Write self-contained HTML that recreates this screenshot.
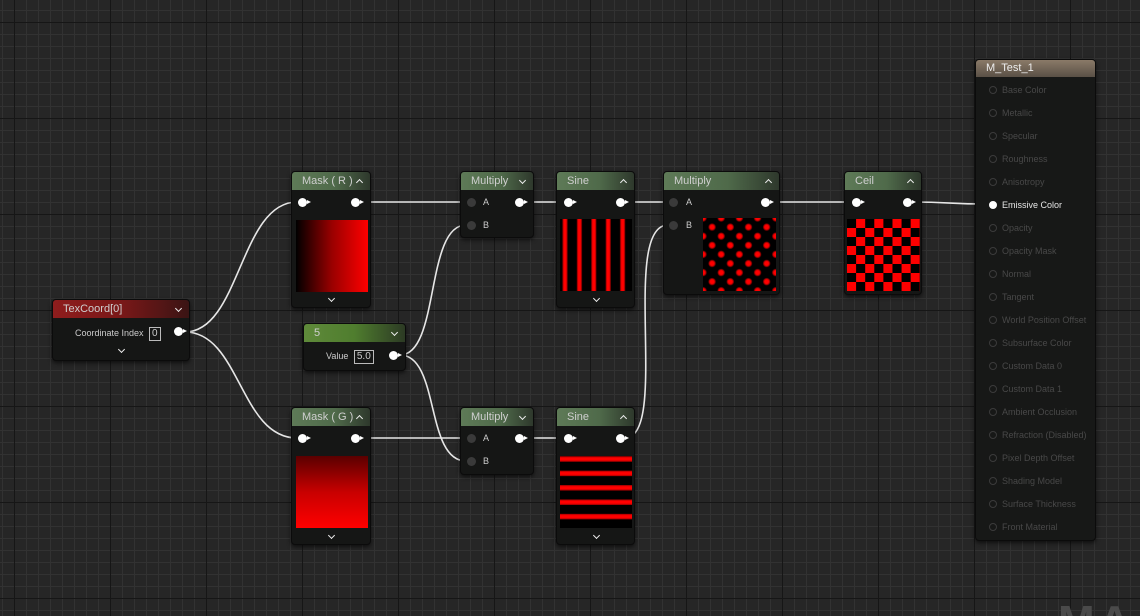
<!DOCTYPE html>
<html style="width:1140px;height:616px;overflow:hidden"><head><meta charset="utf-8"><style>
*{margin:0;padding:0;box-sizing:border-box}
body{width:1140px;height:616px;overflow:hidden;position:relative;font-family:"Liberation Sans",sans-serif;
background-color:#262626;
background-image:
linear-gradient(90deg,#161616 0 1px,transparent 1px),
linear-gradient(0deg,transparent 0 95px,#161616 95px 96px),
linear-gradient(90deg,#323232 0 1px,transparent 1px),
linear-gradient(0deg,transparent 0 11px,#323232 11px 12px);
background-size:96px 96px,96px 96px,12px 12px,12px 12px;
background-position:14px 0,0 22px,2px 0,0 10px;}
.n{position:absolute;background:#151615;border:1px solid #0b0b0b;border-radius:4px;box-shadow:0 2px 4px rgba(0,0,0,.6)}
.h{height:18px;border-radius:3px 3px 0 0;color:#cfcfcf;font-size:11px;line-height:18px;padding-left:10px;position:relative;
background:linear-gradient(90deg,#5e7a57,#4f6a4a 55%,#2e382c)}
.h .c,.chev{position:absolute;width:5px;height:5px;border-right:1.5px solid #eee;border-bottom:1.5px solid #eee}
.h .c{right:8px;top:6px;transform:rotate(45deg)}
.h .c.u{top:8px;transform:rotate(-135deg)}
.chev{transform:rotate(45deg)}
.pin{position:absolute;width:9px;height:9px;border-radius:50%;background:#fff}
.pin:after{content:"";position:absolute;right:-4px;top:2px;border-left:4px solid #fff;border-top:2.5px solid transparent;border-bottom:2.5px solid transparent}
.dp{position:absolute;width:9px;height:9px;border-radius:50%;background:#3a3a3a}
.lb{position:absolute;font-size:9px;color:#ccc}
.pv{position:absolute}
.box{display:inline-block;border:1px solid #bbb;padding:0 2px;font-size:10px;line-height:12px;margin-left:3px}
.row{position:absolute;left:13px;font-size:9px;color:#484848;height:12px;line-height:12px}
.row i{display:inline-block;width:8px;height:8px;border:1.5px solid #3b3b3b;border-radius:50%;margin-right:5px;vertical-align:-1px}
</style></head><body>
<svg width="1140" height="616" style="position:absolute;left:0;top:0" fill="none" stroke="#e6e6e6" stroke-width="1.6">
<path d="M185 332 C240 332 240 202 297 202"/>
<path d="M185 332 C240 332 240 438 297 438"/>
<path d="M360 202 L466 202"/>
<path d="M360 438 L466 438"/>
<path d="M400 355 C440 355 425 225 466 225"/>
<path d="M400 355 C440 355 425 461 466 461"/>
<path d="M523 202 L562 202"/>
<path d="M523 438 L562 438"/>
<path d="M625 202 L668 202"/>
<path d="M625 438 C670 438 620 225 668 225"/>
<path d="M770 202 L850 202"/>
<path d="M912 202 C950 202 950 204 985 204"/>
</svg>

<div class="n" style="left:52px;top:299px;width:138px;height:62px">
<div class="h" style="background:linear-gradient(90deg,#8e1d1d,#7a1818 50%,#3a1414)">TexCoord[0]<span class="c"></span></div>
<div class="lb" style="left:22px;top:27px">Coordinate Index <span class="box">0</span></div>
<div class="pin" style="left:121px;top:27px"></div>
<div class="chev" style="left:66px;top:47px"></div>
</div>

<div class="n" style="left:291px;top:171px;width:80px;height:137px">
<div class="h">Mask ( R )<span class="c u"></span></div>
<div class="pin" style="left:6px;top:26px"></div><div class="pin" style="left:59px;top:26px"></div>
<div class="pv" style="left:4px;top:48px;width:72px;height:72px;background:linear-gradient(90deg,#000,#9a0000 50%,#ff0000)"></div>
<div class="chev" style="left:37px;top:124px"></div>
</div>

<div class="n" style="left:303px;top:323px;width:103px;height:48px">
<div class="h" style="background:linear-gradient(90deg,#5f8a3a,#4f7d2e 50%,#2c3a24)">5<span class="c"></span></div>
<div class="lb" style="left:22px;top:26px">Value <span class="box">5.0</span></div>
<div class="pin" style="left:85px;top:27px"></div>
</div>

<div class="n" style="left:291px;top:407px;width:80px;height:138px">
<div class="h">Mask ( G )<span class="c u"></span></div>
<div class="pin" style="left:6px;top:26px"></div><div class="pin" style="left:59px;top:26px"></div>
<div class="pv" style="left:4px;top:48px;width:72px;height:72px;background:linear-gradient(180deg,#5a0000,#c80000 50%,#ff0000)"></div>
<div class="chev" style="left:37px;top:125px"></div>
</div>

<div class="n" style="left:460px;top:171px;width:74px;height:67px">
<div class="h">Multiply<span class="c"></span></div>
<div class="dp" style="left:6px;top:26px"></div><div class="lb" style="left:22px;top:25px">A</div>
<div class="dp" style="left:6px;top:49px"></div><div class="lb" style="left:22px;top:48px">B</div>
<div class="pin" style="left:54px;top:26px"></div>
</div>

<div class="n" style="left:460px;top:407px;width:74px;height:68px">
<div class="h">Multiply<span class="c"></span></div>
<div class="dp" style="left:6px;top:26px"></div><div class="lb" style="left:22px;top:25px">A</div>
<div class="dp" style="left:6px;top:49px"></div><div class="lb" style="left:22px;top:48px">B</div>
<div class="pin" style="left:54px;top:26px"></div>
</div>

<div class="n" style="left:556px;top:171px;width:79px;height:137px">
<div class="h">Sine<span class="c u"></span></div>
<div class="pin" style="left:7px;top:26px"></div><div class="pin" style="left:59px;top:26px"></div>
<div class="pv" style="left:3px;top:47px;width:72px;height:72px;background:repeating-linear-gradient(90deg,#000 0,#000 2px,#a00 3px,#f00 4px,#f00 6px,#a00 7px,#000 8px,#000 14.4px)"></div>
<div class="chev" style="left:37px;top:124px"></div>
</div>

<div class="n" style="left:556px;top:407px;width:79px;height:138px">
<div class="h">Sine<span class="c u"></span></div>
<div class="pin" style="left:7px;top:26px"></div><div class="pin" style="left:59px;top:26px"></div>
<div class="pv" style="left:3px;top:48px;width:72px;height:72px;background:repeating-linear-gradient(180deg,#000 0,#a00 0.5px,#f00 2px,#f00 4px,#a00 5.5px,#000 6px,#000 14.4px)"></div>
<div class="chev" style="left:37px;top:125px"></div>
</div>

<div class="n" style="left:663px;top:171px;width:117px;height:124px">
<div class="h">Multiply<span class="c u"></span></div>
<div class="dp" style="left:5px;top:26px"></div><div class="lb" style="left:22px;top:25px">A</div>
<div class="dp" style="left:5px;top:49px"></div><div class="lb" style="left:22px;top:48px">B</div>
<div class="pin" style="left:97px;top:26px"></div>
<div class="pv" style="left:39px;top:46px;width:73px;height:73px;background-color:#000;
background-image:radial-gradient(circle,#f00 0,#f00 2px,#800 3.2px,transparent 4px),radial-gradient(circle,#f00 0,#f00 2px,#800 3.2px,transparent 4px);
background-size:18.2px 18.2px;background-position:0 0,9.1px 9.1px"></div>
</div>

<div class="n" style="left:844px;top:171px;width:78px;height:124px">
<div class="h">Ceil<span class="c u"></span></div>
<div class="pin" style="left:7px;top:26px"></div><div class="pin" style="left:58px;top:26px"></div>
<div class="pv" style="left:2px;top:47px;width:73px;height:72px;background-color:#000;
background-image:linear-gradient(45deg,#f00 25%,transparent 25%,transparent 75%,#f00 75%),linear-gradient(45deg,#f00 25%,transparent 25%,transparent 75%,#f00 75%);
background-size:18.2px 18px;background-position:0 0,9.1px 9px"></div>
</div>

<div class="n" style="left:975px;top:59px;width:121px;height:482px;background:#171817">
<div class="h" style="height:17px;line-height:17px;background:linear-gradient(180deg,#8a7a68,#5a5046);color:#eee">M_Test_1</div>
<div class="row" style="top:24px"><i></i>Base Color</div>
<div class="row" style="top:47px"><i></i>Metallic</div>
<div class="row" style="top:70px"><i></i>Specular</div>
<div class="row" style="top:93px"><i></i>Roughness</div>
<div class="row" style="top:116px"><i></i>Anisotropy</div>
<div class="row" style="top:139px;color:#e6e6e6"><i style="background:#fff;border-color:#fff"></i>Emissive Color</div>
<div class="row" style="top:162px"><i></i>Opacity</div>
<div class="row" style="top:185px"><i></i>Opacity Mask</div>
<div class="row" style="top:208px"><i></i>Normal</div>
<div class="row" style="top:231px"><i></i>Tangent</div>
<div class="row" style="top:254px"><i></i>World Position Offset</div>
<div class="row" style="top:277px"><i></i>Subsurface Color</div>
<div class="row" style="top:300px"><i></i>Custom Data 0</div>
<div class="row" style="top:323px"><i></i>Custom Data 1</div>
<div class="row" style="top:346px"><i></i>Ambient Occlusion</div>
<div class="row" style="top:369px"><i></i>Refraction (Disabled)</div>
<div class="row" style="top:392px"><i></i>Pixel Depth Offset</div>
<div class="row" style="top:415px"><i></i>Shading Model</div>
<div class="row" style="top:438px"><i></i>Surface Thickness</div>
<div class="row" style="top:461px"><i></i>Front Material</div>
</div>

<div style="position:absolute;left:1058px;top:600px;font-size:44px;font-weight:bold;color:#4a4a4a;letter-spacing:4px;line-height:44px">MA</div>
</body></html>
